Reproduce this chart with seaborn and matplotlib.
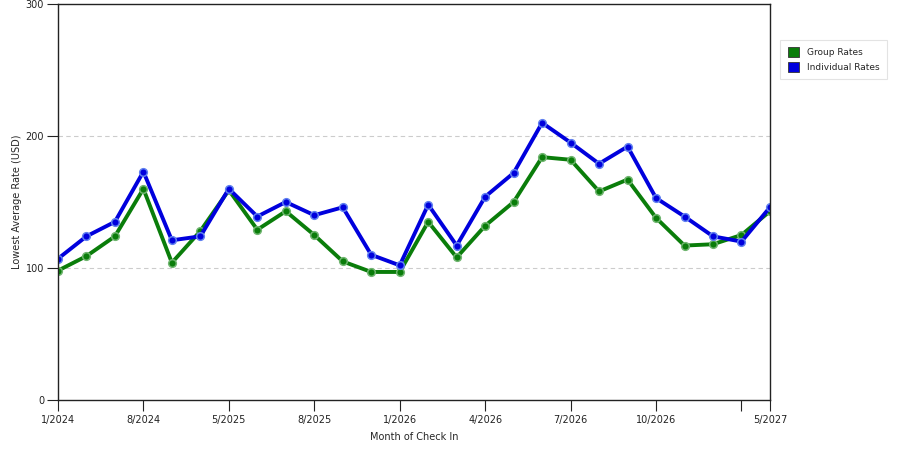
import numpy as np
import pandas as pd
import seaborn as sns
import matplotlib.pyplot as plt
from matplotlib.patches import Patch

# values (26 monthly points)
group_rates = [98, 109, 124, 160, 104, 128, 159, 129, 143, 125, 105, 97, 97,
               135, 108, 132, 150, 184, 182, 158, 167, 138, 117, 118, 125, 143]
individual_rates = [107, 124, 135, 173, 121, 124, 160, 139, 150, 140, 146, 110, 102,
                    148, 117, 154, 172, 210, 195, 179, 192, 153, 139, 124, 120, 146]
tick_idx = [0, 3, 6, 9, 12, 15, 18, 21, 24, 25]
tick_labels = ['1/2024', '8/2024', '5/2025', '8/2025', '1/2026', '4/2026',
               '7/2026', '10/2026', '', '5/2027']

n = len(group_rates)
df = pd.DataFrame({
    'idx': list(range(n)) * 2,
    'rate': group_rates + individual_rates,
    'series': ['Group Rates'] * n + ['Individual Rates'] * n,
})

sns.set_style('white')
plt.rcParams['font.family'] = ['DejaVu Sans']

colors = {'Group Rates': '#0a7d0a', 'Individual Rates': '#0000dd'}
edge = {'Group Rates': '#6fb56f', 'Individual Rates': '#6080f0'}

fig = plt.figure(figsize=(9, 4.5), dpi=100)
ax = fig.add_axes([0.0644, 0.1111, 0.7911, 0.88])

for name in ['Group Rates', 'Individual Rates']:
    sub = df[df['series'] == name]
    sns.lineplot(data=sub, x='idx', y='rate', ax=ax, color=colors[name],
                 linewidth=2.8, marker='o', markersize=5.5,
                 markerfacecolor=colors[name], markeredgecolor=edge[name],
                 markeredgewidth=1.1, legend=False)

ax.set_xlim(0, n - 1)
ax.set_ylim(0, 300)
ax.set_yticks([0, 100, 200, 300])
ax.set_xticks(tick_idx)
ax.set_xticklabels(tick_labels)
ax.tick_params(axis='both', direction='out', length=8, width=0.8,
               labelsize=7, colors='#222222', bottom=True, left=True)
ax.tick_params(axis='x', pad=3)
ax.tick_params(axis='y', pad=2)

for y in [100, 200]:
    ax.axhline(y, color='#cccccc', linestyle=(0, (4, 3)), linewidth=0.8, zorder=0)

for s in ax.spines.values():
    s.set_color('#222222')
    s.set_linewidth(1.0)

ax.set_xlabel('Month of Check In', fontsize=7, labelpad=5)
ax.set_ylabel('Lowest Average Rate (USD)', fontsize=7)
ax.yaxis.set_label_coords(-0.05, 0.5)

handles = [Patch(facecolor=colors[k], edgecolor='#333333', linewidth=0.6, label=k)
           for k in ['Group Rates', 'Individual Rates']]
leg = fig.legend(handles=handles, loc='upper left', bbox_to_anchor=(0.862, 0.922),
                 fontsize=6.5, frameon=True, fancybox=False, handlelength=1.3,
                 handleheight=1.3, borderpad=0.8, labelspacing=0.6, handletextpad=0.9)
leg.get_frame().set_edgecolor('#dddddd')
leg.get_frame().set_linewidth(0.8)

fig.savefig('out.png', dpi=100)
